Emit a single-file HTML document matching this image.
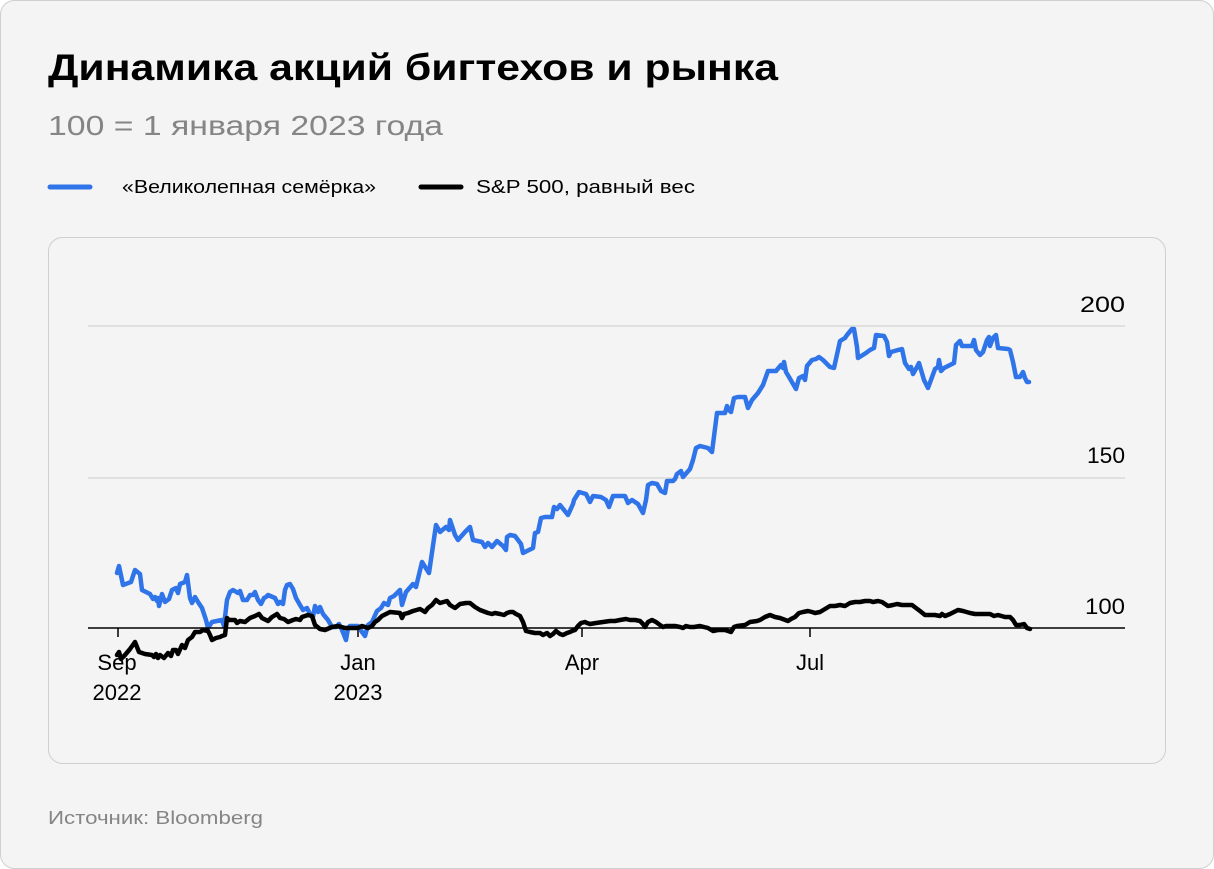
<!DOCTYPE html>
<html><head><meta charset="utf-8"><style>
html,body{margin:0;padding:0;background:#fff;}
svg{display:block;font-family:"Liberation Sans",sans-serif;}
</style></head><body>
<svg width="1214" height="869" viewBox="0 0 1214 869">
<rect x="0.5" y="0.5" width="1213" height="868" rx="14" fill="#f4f4f4" stroke="#cfcfcf"/>
<text x="48" y="80" font-size="37" font-weight="bold" fill="#000" textLength="730" lengthAdjust="spacingAndGlyphs">Динамика акций бигтехов и рынка</text>
<text x="48" y="135" font-size="28" fill="#858585" textLength="395" lengthAdjust="spacingAndGlyphs">100 = 1 января 2023 года</text>
<line x1="50" y1="187" x2="90" y2="187" stroke="#2f74e8" stroke-width="5" stroke-linecap="round"/>
<text x="122" y="193" font-size="18" fill="#000" textLength="254" lengthAdjust="spacingAndGlyphs">«Великолепная семёрка»</text>
<line x1="421" y1="187" x2="461" y2="187" stroke="#000" stroke-width="5" stroke-linecap="round"/>
<text x="476" y="193" font-size="18" fill="#000" textLength="219" lengthAdjust="spacingAndGlyphs">S&amp;P 500, равный вес</text>
<rect x="48.5" y="237.5" width="1117" height="526" rx="14" fill="#f4f4f4" stroke="#cfcfcf"/>
<line x1="88" y1="326" x2="1125" y2="326" stroke="#e0e0e0" stroke-width="2"/>
<line x1="88" y1="478" x2="1125" y2="478" stroke="#e0e0e0" stroke-width="2"/>
<text x="1080" y="312" font-size="22" fill="#000" textLength="45" lengthAdjust="spacingAndGlyphs">200</text>
<text x="1087" y="463" font-size="22" fill="#000" textLength="38" lengthAdjust="spacingAndGlyphs">150</text>
<text x="1085" y="614" font-size="22" fill="#000" textLength="40" lengthAdjust="spacingAndGlyphs">100</text>
<g stroke="#000" stroke-width="1.5">
<line x1="118" y1="628" x2="118" y2="637"/><line x1="358" y1="628" x2="358" y2="637"/><line x1="582" y1="628" x2="582" y2="637"/><line x1="810" y1="628" x2="810" y2="637"/>
</g>
<g font-size="22" fill="#000" text-anchor="middle">
<text x="117" y="670">Sep</text><text x="117" y="700">2022</text>
<text x="358" y="670">Jan</text><text x="358" y="700">2023</text>
<text x="582" y="670">Apr</text><text x="810" y="670">Jul</text>
</g>
<polyline fill="none" stroke="#2f74e8" stroke-width="4.5" stroke-linejoin="round" stroke-linecap="round" points="117,573 119,566 123,585 131,582 135,570 140,574 142,590 150,594 153,599 155,597 157,601 158,598 159,606 160,602 162,594 165,602 169,599 172,590 176,588 178,593 180,584 185,582 187,575 190,598 192,603 195,597 198,602 202,608 206,620 208,628 212,622 217,621 222,620 224,626 227,600 230,592 233,590 238,593 240,591 243,600 247,600 250,595 253,595 255,592 258,600 261,604 264,598 266,597 268,595 275,598 278,604 280,602 283,604 285,590 287,585 290,584 293,589 296,598 300,605 303,610 307,608 310,614 313,617 315,606 318,612 320,607 323,614 328,620 332,627 336,627 339,624 342,630 346,640 348,628 350,626 358,626 362,632 365,636 368,625 372,622 377,611 381,608 384,603 388,605 390,598 394,596 398,592 400,590 402,605 406,592 413,584 416,587 422,562 429,573 436,525 440,532 446,527 449,530 450,520 455,535 458,540 465,532 470,527 473,540 482,542 485,547 488,543 492,547 497,541 503,546 506,550 507,537 510,535 515,536 521,544 523,553 527,551 533,548 535,533 538,532 541,518 545,517 552,517 554,507 557,509 560,505 568,515 573,504 574,500 579,492 586,494 590,502 593,496 601,497 606,500 609,507 613,496 625,496 628,503 632,500 638,504 643,513 646,500 648,485 652,483 657,484 661,491 665,493 667,481 673,481 675,479 677,474 681,471 683,477 690,469 693,460 696,448 700,446 708,448 712,452 717,413 725,413 727,406 729,410 731,412 734,398 738,397 745,397 748,408 752,400 758,393 763,385 768,371 776,371 781,365 783,368 784,362 786,372 789,377 796,389 799,378 803,376 805,380 807,366 812,360 816,359 819,357 823,360 830,367 834,368 840,341 845,338 847,335 852,329 854,329 857,347 858,358 866,353 870,350 874,348 876,335 884,336 887,342 889,356 891,352 898,350 902,349 905,363 909,369 911,367 913,374 917,367 919,363 924,380 928,388 935,369 938,367 939,360 941,371 944,368 954,363 956,345 960,341 962,346 972,346 974,340 976,350 980,355 983,352 987,340 989,337 990,346 993,338 996,335 998,348 1008,349 1010,350 1013,362 1016,377 1020,377 1023,372 1025,378 1027,382 1029,382"/>
<line x1="88" y1="628" x2="1125" y2="628" stroke="#000" stroke-width="1.5"/>
<polyline fill="none" stroke="#000" stroke-width="4.5" stroke-linejoin="round" stroke-linecap="round" points="117,655 119,652 121,659 125,655 130,649 135,642 139,652 145,654 152,655 154,657 156,654 158,658 160,655 164,658 168,653 171,656 173,650 176,650 178,654 182,645 185,648 188,640 192,637 195,632 200,632 203,630 208,631 210,635 212,640 216,638 220,637 222,636 225,635 227,618 229,620 235,620 237,623 240,621 245,622 250,618 255,616 259,614 262,618 268,621 272,617 277,614 280,618 284,619 288,622 293,620 296,619 300,620 302,617 308,615 312,616 315,625 320,629 325,630 332,627 338,626 345,628 350,628 358,628 362,626 368,628 372,626 375,622 378,620 382,616 388,613 390,612 400,613 402,618 404,614 408,613 413,611 420,609 425,612 428,608 432,605 436,600 440,603 447,601 450,605 455,608 460,604 466,603 470,603 475,607 480,610 488,613 492,614 495,613 500,614 504,615 507,613 510,612 513,612 516,614 520,616 523,622 526,631 530,632 535,633 540,633 543,635 547,633 550,636 553,634 556,631 560,634 563,635 567,633 570,632 572,631 575,630 578,626 581,623 585,622 587,623 590,624 596,623 603,622 610,621 615,621 620,620 626,619 630,620 635,620 640,621 643,624 645,627 648,622 652,620 656,622 660,625 663,627 666,626 670,626 675,626 680,627 683,628 686,626 690,627 694,627 700,626 708,628 713,631 718,630 725,630 731,632 734,627 737,626 745,625 750,622 757,621 760,620 765,617 770,615 775,617 780,618 788,621 791,619 795,617 799,613 803,612 808,611 812,612 815,613 820,612 825,609 830,606 835,606 840,605 845,606 850,603 855,602 860,602 865,601 870,601 873,602 878,601 882,602 888,606 893,605 897,604 902,605 908,605 912,605 920,611 925,615 935,615 940,616 942,614 945,616 950,614 954,612 958,610 963,611 970,613 975,614 980,614 985,614 990,614 994,616 998,615 1005,617 1010,617 1013,620 1016,625 1020,625 1024,624 1027,628 1030,629"/>
<text x="48" y="824" font-size="18" fill="#858585" textLength="215" lengthAdjust="spacingAndGlyphs">Источник: Bloomberg</text>
</svg>
</body></html>
